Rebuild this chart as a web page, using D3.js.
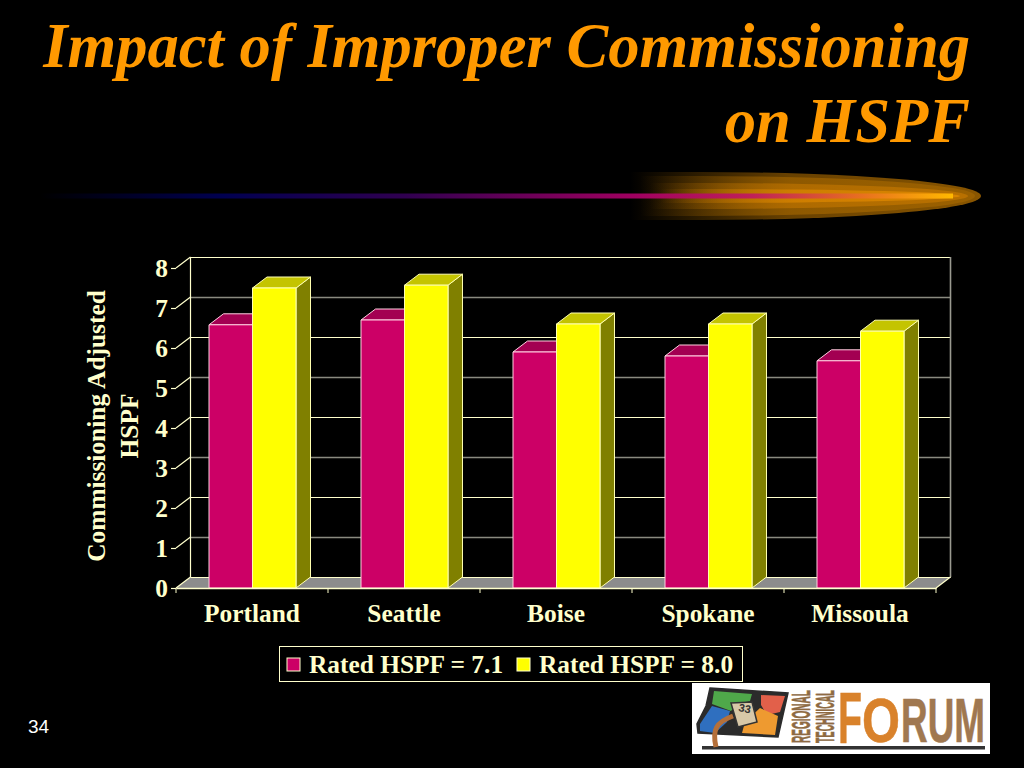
<!DOCTYPE html>
<html><head><meta charset="utf-8">
<script src="https://cdn.jsdelivr.net/npm/d3@7"></script>
<style>html,body{margin:0;padding:0;background:#000;overflow:hidden}svg{display:block}</style>
</head><body><svg id="c" width="1024" height="768"></svg>
<script>
const categories = ["Portland","Seattle","Boise","Spokane","Missoula"];
const rated71 = [6.58,6.7,5.9,5.8,5.68];
const rated80 = [7.5,7.57,6.6,6.6,6.42];
const seriesNames = ["Rated HSPF = 7.1","Rated HSPF = 8.0"];
const yTicks = [0,1,2,3,4,5,6,7,8];
const gridGrey = [1,3,5,7];
const titleLines = ["Impact of Improper Commissioning","on HSPF"];
const axisTitleLines = ["Commissioning Adjusted","HSPF"];
const pageNumber = "34";

const cream="#FFFFCC", serif="'Liberation Serif',serif";
const svg=d3.select("#c");
const defs=svg.append("defs");
svg.append("rect").attr("width",1024).attr("height",768).attr("fill","#000");

// title
svg.selectAll(".t").data(titleLines).join("text")
  .attr("x",970).attr("y",(d,i)=>67+i*75).attr("text-anchor","end")
  .attr("font-family",serif).attr("font-weight","bold").attr("font-style","italic")
  .attr("font-size",62.6).attr("fill","#FF9900").text(d=>d);

// swoosh
const g1=defs.append("linearGradient").attr("id","line").attr("x1",0).attr("x2",1).attr("y1",0).attr("y2",0);
[[0,"#000"],[0.2,"#000050"],[0.4,"#300050"],[0.65,"#A00060"],[0.78,"#C02058"],[0.9,"#E87020"],[1,"#FFB800"]]
  .forEach(s=>g1.append("stop").attr("offset",s[0]).attr("stop-color",s[1]));
const layers=[[630,700,981,24,"#8A5600"],[640,700,975,20,"#9A6000"],[650,700,968,13,"#B87000"],[660,700,960,7,"#D88400"]];
layers.forEach((l,i)=>{
  const id="gl"+i;
  const g=defs.append("linearGradient").attr("id",id).attr("gradientUnits","userSpaceOnUse").attr("x1",l[0]).attr("x2",l[2]).attr("y1",0).attr("y2",0);
  g.append("stop").attr("offset",0).attr("stop-color",l[4]).attr("stop-opacity",0);
  g.append("stop").attr("offset",0.45).attr("stop-color",l[4]).attr("stop-opacity",0.75);
  g.append("stop").attr("offset",1).attr("stop-color",l[4]).attr("stop-opacity",1);
  const cy=196,[x0,xc,x1,h]=l;
  svg.append("path").attr("d",`M${x0},${cy-h}L${xc},${cy-h}A${x1-xc},${h} 0 0 1 ${xc},${cy+h}L${x0},${cy+h}Z`).attr("fill",`url(#${id})`);
});
svg.append("rect").attr("x",40).attr("y",193.5).attr("width",913).attr("height",5).attr("fill","url(#line)");

// chart
const dx=14.5, dy=-11;
const x=d3.scaleBand().domain(categories).range([176,936]);
const y=d3.scaleLinear().domain([0,8]).range([588,268]);
const bx=d3.scaleBand().domain([0,1]).range([33,120]);
const chart=svg.append("g");
const xL=x.range()[0], xR=x.range()[1];

chart.append("polygon").attr("fill","#8C8C8C")
 .attr("points",[[xL,y(0)],[xL+dx,y(0)+dy],[xR+dx,y(0)+dy],[xR,y(0)]].join(" "));
chart.selectAll(".g").data(yTicks).join("line")
 .attr("x1",xL+dx).attr("x2",xR+dx).attr("y1",d=>y(d)+dy+0.5).attr("y2",d=>y(d)+dy+0.5)
 .attr("stroke",d=>gridGrey.includes(d)?"#8A8A80":cream).attr("stroke-width",d=>gridGrey.includes(d)?1.6:1.1);
chart.selectAll(".s").data(yTicks).join("line")
 .attr("x1",xL).attr("x2",xL+dx).attr("y1",d=>y(d)).attr("y2",d=>y(d)+dy)
 .attr("stroke",cream).attr("stroke-width",1.2);
chart.append("line").attr("x1",xL+dx).attr("x2",xL+dx).attr("y1",y(8)+dy).attr("y2",y(0)+dy).attr("stroke",cream).attr("stroke-width",1.2);
chart.append("line").attr("x1",xR+dx).attr("x2",xR+dx).attr("y1",y(8)+dy).attr("y2",y(0)+dy).attr("stroke","#9A9A90").attr("stroke-width",1.6);
chart.append("line").attr("x1",xR).attr("x2",xR+dx).attr("y1",y(0)).attr("y2",y(0)+dy).attr("stroke",cream).attr("stroke-width",1.2);

const palette=[{f:"#CC0066",t:"#A30052",s:"#7A003D"},{f:"#FFFF00",t:"#C4C400",s:"#808000"}];
categories.forEach((c,ci)=>{
  [rated71,rated80].forEach((vals,si)=>{
    const col=palette[si], v=vals[ci];
    const bw=bx.bandwidth(), x0=x(c)+bx(si), x1=x0+bw, yt=y(v), yb=y(0);
    const g=chart.append("g").attr("stroke",si?"#FFFFB0":"#FFD0E0").attr("stroke-width",1).attr("stroke-linejoin","round");
    g.append("polygon").attr("fill",col.s).attr("points",[[x1,yt],[x1+dx,yt+dy],[x1+dx,yb+dy],[x1,yb]].join(" "));
    g.append("polygon").attr("fill",col.t).attr("points",[[x0,yt],[x0+dx,yt+dy],[x1+dx,yt+dy],[x1,yt]].join(" "));
    g.append("rect").attr("x",x0).attr("y",yt).attr("width",bw).attr("height",yb-yt).attr("fill",col.f);
  });
});

const yAxis=d3.axisLeft(y).tickValues(yTicks).tickSize(5).tickSizeOuter(0).tickPadding(3).tickFormat(d3.format("d"));
const ag=chart.append("g").attr("transform",`translate(${xL},0)`).call(yAxis);
ag.select(".domain").remove();
ag.selectAll("line").attr("stroke",cream).attr("stroke-width",1.2);
ag.selectAll("text").attr("font-family",serif).attr("font-weight","bold").attr("font-size",25.4).attr("fill",cream);

const xAxis=d3.axisBottom(x).tickSize(0).tickPadding(16);
const xg=chart.append("g").attr("transform",`translate(0,${y(0)})`).call(xAxis);
xg.select(".domain").attr("stroke",cream).attr("stroke-width",1.4);
xg.selectAll("text").attr("font-family",serif).attr("font-weight","bold").attr("font-size",25.4).attr("fill",cream);
chart.selectAll(".xt").data(d3.range(categories.length+1)).join("line")
 .attr("x1",i=>xL+i*x.step()).attr("x2",i=>xL+i*x.step()).attr("y1",y(0)).attr("y2",y(0)+5)
 .attr("stroke",cream).attr("stroke-width",1);

svg.selectAll(".at").data(axisTitleLines).join("text")
 .attr("transform",(d,i)=>`translate(${105+i*33},426) rotate(-90)`).attr("text-anchor","middle")
 .attr("font-family",serif).attr("font-weight","bold").attr("font-size",25.4).attr("fill",cream).text(d=>d);

const lg=svg.append("g");
lg.append("rect").attr("x",279.5).attr("y",646.5).attr("width",463).attr("height",35).attr("fill","#000").attr("stroke",cream).attr("stroke-width",1);
const lx=[287,517];
seriesNames.forEach((n,i)=>{
  lg.append("rect").attr("x",lx[i]).attr("y",658).attr("width",13).attr("height",13).attr("fill",palette[i].f).attr("stroke",cream).attr("stroke-width",1);
  lg.append("text").attr("x",lx[i]+22).attr("y",673).attr("font-family",serif).attr("font-weight","bold").attr("font-size",25.4).attr("fill",cream).text(n);
});

svg.append("text").attr("x",28).attr("y",732.5).attr("font-family","'Liberation Sans',sans-serif").attr("font-size",19).attr("fill","#fff").text(pageNumber);

// logo
const lo=svg.append("g");
lo.append("rect").attr("x",692).attr("y",683).attr("width",298).attr("height",71).attr("fill","#fff");
lo.append("rect").attr("x",702).attr("y",746).attr("width",283).attr("height",3.5).attr("fill","#333");
const poly=(pts,f,s)=>lo.append("polygon").attr("points",pts.join(" ")).attr("fill",f).attr("stroke",s||"none").attr("stroke-width",s?1.5:0);
poly([[710,688],[788,693],[778,737],[698,733],[697,724],[706,706]],"#2b2b2b","#2b2b2b");
poly([[714,691],[752,694],[750,701],[737,704],[731,711],[712,704]],"#4FA84A");
poly([[712,706],[730,711],[727,722],[715,733],[700,731],[700,724]],"#2F6FBF");
poly([[761,695],[785,696],[780,712],[767,715],[761,705]],"#E2604A");
poly([[745,722],[760,708],[778,716],[775,735],[742,733]],"#EE9A30");
poly([[731,703],[752,702],[757,722],[738,727]],"#D8C8A8","#333");
lo.append("path").attr("d","M733,716 C716,722 712,730 716,747").attr("fill","none").attr("stroke","#B5703A").attr("stroke-width",5);
lo.append("text").attr("transform","translate(738,711) rotate(12)").attr("font-family","'Liberation Sans',sans-serif").attr("font-weight","bold").attr("font-size",11).attr("fill","#333").text("33");
const ff="'Liberation Sans Narrow','Liberation Sans',sans-serif";
function fit(str,px,py,w,size,fill,rot){
  const t=lo.append("text").attr("font-family",ff).attr("font-weight","bold").attr("font-size",size)
    .attr("fill",fill).attr("stroke",fill).attr("stroke-width",0.6).text(str);
  const s=w/t.node().getComputedTextLength();
  t.attr("transform",`translate(${px},${py})${rot?" rotate(-90)":""} scale(${s},1)`);
}
fit("REGIONAL",810,743,53,26,"#8E6A42",true);
fit("TECHNICAL",834,743,53,26,"#8E6A42",true);
fit("F",838,743,24,72,"#D9822B");
fit("O",862,742,38,62,"#D9822B");
fit("RUM",901,742,84,62,"#A07850");
</script></body></html>
